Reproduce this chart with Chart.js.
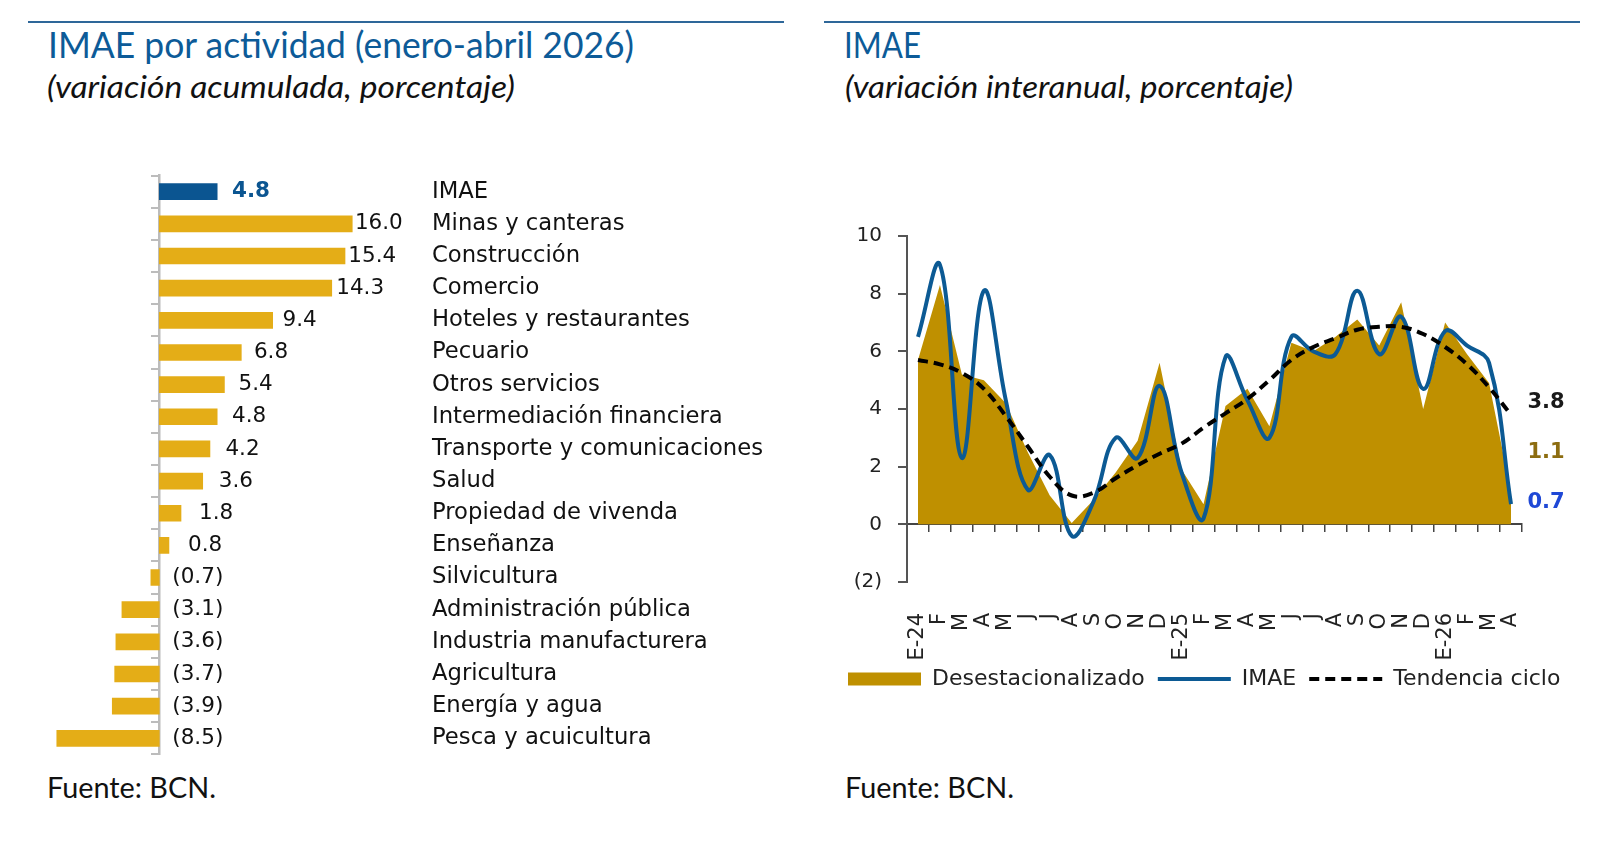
<!DOCTYPE html>
<html><head><meta charset="utf-8">
<script src="https://cdn.jsdelivr.net/npm/chart.js@4.4.1/dist/chart.umd.min.js"></script>
<style>
html,body{margin:0;padding:0;background:#fff;}
#page{position:relative;width:1622px;height:860px;overflow:hidden;font-family:Lato,'Noto Sans',sans-serif;}
.rule{position:absolute;height:2px;background:#2e6799;}
.t{position:absolute;white-space:nowrap;line-height:1;transform-origin:0 0;}
.title{font-size:36px;color:#0d5b98;}
.sub{font-size:31px;font-style:italic;color:#111;}
.src{font-size:28px;color:#111;}
canvas{position:absolute;}
</style></head><body><div id="page">
<div class="rule" style="left:28px;top:21px;width:756px"></div>
<div class="rule" style="left:824px;top:21px;width:756px"></div>
<div class="t title" data-w="586" style="left:48px;top:26.4px">IMAE por actividad (enero-abril 2026)</div>
<div class="t sub" data-w="468" style="left:47px;top:70.8px">(variación acumulada, porcentaje)</div>
<div class="t title" data-w="77" style="left:844px;top:26.4px">IMAE</div>
<div class="t sub" data-w="448" style="left:845px;top:70.8px">(variación interanual, porcentaje)</div>
<div class="t src" data-w="169" style="left:47px;top:773px">Fuente: BCN.</div>
<div class="t src" data-w="169" style="left:845px;top:773px">Fuente: BCN.</div>
<canvas id="cL" width="800" height="630" style="left:0;top:150px;width:800px;height:630px"></canvas>
<canvas id="cR" width="787" height="507" style="left:835px;top:200px;width:787px;height:507px"></canvas>
</div>
<script>
// ---- Left chart data ----
const catLabels = ['IMAE','Minas y canteras','Construcción','Comercio','Hoteles y restaurantes','Pecuario','Otros servicios','Intermediación financiera','Transporte y comunicaciones','Salud','Propiedad de vivenda','Enseñanza','Silvicultura','Administración pública','Industria manufacturera','Agricultura','Energía y agua','Pesca y acuicultura'];
const catValues = [4.8,16.0,15.4,14.3,9.4,6.8,5.4,4.8,4.2,3.6,1.8,0.8,-0.7,-3.1,-3.6,-3.7,-3.9,-8.5];

// ---- Right chart data ----
const monthLabels = ['E-24','F','M','A','M','J','J','A','S','O','N','D','E-25','F','M','A','M','J','J','A','S','O','N','D','E-26','F','M','A'];
const desestValues = [5.7,8.3,5.2,5.0,4.2,2.5,1.0,0.05,0.85,1.8,2.9,5.6,1.9,0.7,4.1,4.7,3.4,6.3,6.0,6.5,7.1,6.2,7.7,4.0,7.0,5.9,4.9,1.1];
const imaeValues = [6.5,9.0,2.3,8.1,4.3,1.2,2.4,-0.4,0.8,3.0,2.3,4.8,1.8,0.2,5.8,4.3,3.0,6.5,6.0,5.9,8.1,5.9,7.2,4.7,6.7,6.2,5.6,0.7];
const trendValues = [5.7,5.55,5.25,4.7,3.75,2.7,1.65,1.0,1.1,1.6,2.05,2.45,2.8,3.35,3.85,4.35,5.0,5.7,6.15,6.45,6.75,6.85,6.85,6.6,6.15,5.55,4.75,3.8];
const yTicks = [-2,0,2,4,6,8,10];

const GOLD_BAR = '#e4ad17', BLUE_BAR = '#0b5591';
const FAM = "'DejaVu Sans', Verdana, sans-serif";

const barLabelPlugin = {
  id: 'barLabels',
  afterDatasetsDraw(chart) {
    const ctx = chart.ctx, meta = chart.getDatasetMeta(0), xs = chart.scales.x;
    const x0 = xs.getPixelForValue(0);
    ctx.save();
    ctx.textBaseline = 'middle'; ctx.textAlign = 'left';
    meta.data.forEach((bar, i) => {
      const v = catValues[i];
      const txt = v < 0 ? '(' + Math.abs(v).toFixed(1) + ')' : v.toFixed(1);
      const x = v >= 0 ? x0 + 0.91 * (bar.x - x0) + 20 : x0 + 13;
      ctx.font = (i === 0 ? 'bold ' : '') + '21.5px ' + FAM;
      ctx.fillStyle = i === 0 ? BLUE_BAR : '#111';
      ctx.fillText(txt, x, bar.y);
    });
    ctx.restore();
  }
};

new Chart(document.getElementById('cL'), {
  type: 'bar',
  data: { labels: catLabels, datasets: [{
    data: catValues, xAxisID: 'x', yAxisID: 'y',
    backgroundColor: catValues.map((v, i) => i === 0 ? BLUE_BAR : GOLD_BAR),
    barThickness: 16, borderWidth: 0
  }]},
  options: {
    indexAxis: 'y', responsive: false, animation: false,
    layout: { padding: { left: 50, top: 15, bottom: 16.7, right: 0 } },
    plugins: { legend: { display: false }, tooltip: { enabled: false } },
    scales: {
      x: { type: 'linear', min: -9.063, max: 21.617, display: false },
      y: { type: 'category', position: { x: 0 }, offset: true,
           grid: { offset: true, drawOnChartArea: false, tickLength: 7, color: '#bcbcbc', lineWidth: 2 },
           border: { color: '#bcbcbc', width: 2.5 }, ticks: { display: false } },
      yL: { type: 'category', labels: catLabels, position: 'right', offset: true,
            grid: { display: false, drawTicks: false }, border: { display: false },
            ticks: { padding: 12, color: '#111', font: { family: FAM, size: 22.7 } },
            afterFit(s) { s.width = 380; } }
    }
  },
  plugins: [barLabelPlugin]
});

const endLabelPlugin = {
  id: 'endLabels',
  afterDatasetsDraw(chart) {
    const ys = chart.scales.y, ca = chart.chartArea, ctx = chart.ctx;
    const items = [
      { v: imaeValues[imaeValues.length - 1], c: '#1f48d6' },
      { v: desestValues[desestValues.length - 1], c: '#8d6d10' },
      { v: trendValues[trendValues.length - 1], c: '#1a1a1a' }
    ].sort((a, b) => a.v - b.v);
    let prev = Infinity;
    ctx.save();
    ctx.font = 'bold 21px ' + FAM; ctx.textAlign = 'left'; ctx.textBaseline = 'middle';
    items.forEach(it => {
      const y = Math.min(ys.getPixelForValue(it.v) - 2, prev - 50);
      prev = y;
      ctx.fillStyle = it.c;
      ctx.fillText(it.v.toFixed(1), ca.right + 5.5, y);
    });
    ctx.restore();
  }
};

const legendShiftPlugin = {
  id: 'legendShift',
  afterLayout(chart) {
    if (chart.legend) { chart.legend.top -= 7; chart.legend.bottom -= 7; }
  }
};

new Chart(document.getElementById('cR'), {
  type: 'line',
  data: { labels: monthLabels, datasets: [
    { label: 'Desestacionalizado', data: desestValues, fill: 'origin', backgroundColor: '#bf9000', borderColor: '#bf9000',
      borderWidth: 0, pointRadius: 0, tension: 0, order: 3 },
    { label: 'IMAE', data: imaeValues, borderColor: '#0c5a94', backgroundColor: '#0c5a94', borderWidth: 4,
      pointRadius: 0, tension: 0.4, fill: false, order: 2 },
    { label: 'Tendencia ciclo', data: trendValues, borderColor: '#000000', backgroundColor: '#000000', borderDash: [10, 6],
      borderWidth: 4, pointRadius: 0, tension: 0.4, fill: false, order: 1 }
  ]},
  options: {
    responsive: false, animation: false,
    layout: { padding: { top: 36, left: 0, right: 0, bottom: 0 } },
    plugins: {
      tooltip: { enabled: false },
      legend: { position: 'bottom', align: 'start',
        labels: { usePointStyle: true, pointStyleWidth: 73, boxHeight: 13, padding: 13, color: '#222',
          font: { family: FAM, size: 22 },
          generateLabels(chart) {
            return chart.data.datasets.map((d, i) => ({
              text: d.label, fillStyle: d.backgroundColor, strokeStyle: d.borderColor,
              lineWidth: i === 0 ? 0 : d.borderWidth, lineDash: d.borderDash || [], lineCap: 'butt',
              pointStyle: i === 0 ? 'rect' : 'line', fontColor: '#222', hidden: false, datasetIndex: i
            }));
          } } }
    },
    scales: {
      x: { type: 'category', position: { y: 0 }, offset: true,
           grid: { offset: true, drawOnChartArea: false, tickLength: 7, color: '#444', lineWidth: 1.5 },
           border: { color: '#444', width: 2 }, ticks: { display: false } },
      y: { type: 'linear', position: 'left', min: yTicks[0], max: yTicks[yTicks.length - 1],
           afterBuildTicks(s) { s.ticks = yTicks.map(v => ({ value: v })); },
           ticks: { padding: 16, color: '#222', font: { family: FAM, size: 20 },
                    callback: v => v < 0 ? '(' + (-v) + ')' : String(v) },
           grid: { drawOnChartArea: false, tickLength: 9, color: '#555', lineWidth: 2 },
           border: { color: '#555', width: 2 }, afterFit(s) { s.width = 72; } },
      x2: { type: 'category', labels: monthLabels, position: 'bottom', offset: true,
            grid: { display: false, drawTicks: false }, border: { display: false },
            ticks: { autoSkip: false, maxRotation: 90, minRotation: 90, padding: 31, color: '#222',
                     font: { family: FAM, size: 21 } },
            afterFit(s) { s.height = 80; } },
      yR: { type: 'linear', position: 'right', display: true, grid: { display: false, drawTicks: false },
            border: { display: false }, ticks: { display: false }, afterFit(s) { s.width = 100; } }
    }
  },
  plugins: [endLabelPlugin, legendShiftPlugin]
});

function fitTexts() {
  document.querySelectorAll('[data-w]').forEach(el => {
    el.style.transform = 'none';
    const w = el.getBoundingClientRect().width;
    if (w > 0) el.style.transform = 'scaleX(' + (+el.dataset.w / w) + ')';
  });
}
fitTexts();
if (document.fonts && document.fonts.ready) document.fonts.ready.then(fitTexts);
</script>
</body></html>
